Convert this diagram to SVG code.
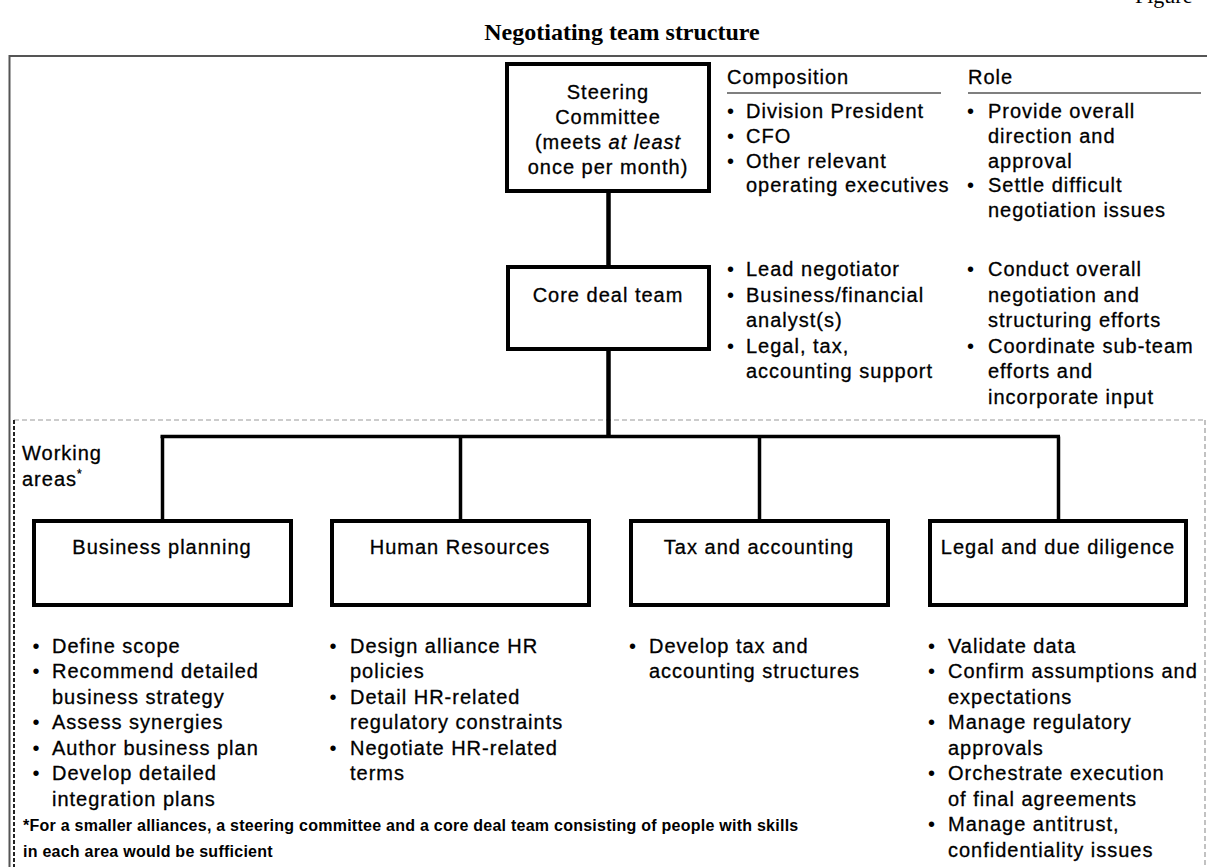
<svg xmlns="http://www.w3.org/2000/svg" width="1207" height="867" viewBox="0 0 1207 867">
<style>
.t{font-family:"Liberation Sans",Arial,sans-serif;font-size:20px;letter-spacing:1px;fill:#000;stroke:#000;stroke-width:0.3}
.m{text-anchor:middle}
.b{font-family:"Liberation Sans",Arial,sans-serif;font-size:20px;fill:#000}
.fn{font-family:"Liberation Sans",Arial,sans-serif;font-size:16px;font-weight:bold;letter-spacing:0.25px;fill:#000}
.ttl{font-family:"Liberation Serif","Times New Roman",serif;font-weight:bold;font-size:24px;fill:#000;text-anchor:middle}
.fig{font-family:"Liberation Serif","Times New Roman",serif;font-size:22px;fill:#000}
.box{fill:#fff;stroke:#000;stroke-width:4}
.con{stroke:#000;fill:none}
.ul{stroke:#555;stroke-width:1.5}
</style>
<rect width="1207" height="867" fill="#fff"/>
<text class="fig" x="1135" y="3">Figure</text>
<text class="ttl" x="622" y="40">Negotiating team structure</text>
<g id="frame">
<line x1="9" y1="56" x2="1207" y2="56" stroke="#555" stroke-width="2"/>
<line x1="9.5" y1="55" x2="9.5" y2="867" stroke="#555" stroke-width="2"/>
<line x1="14" y1="420" x2="1205" y2="420" stroke="#999" stroke-width="1.2" stroke-dasharray="5 3"/>
<line x1="1205" y1="420" x2="1205" y2="867" stroke="#999" stroke-width="1.2" stroke-dasharray="5 3"/>
<line x1="14" y1="420" x2="14" y2="867" stroke="#222" stroke-width="2" stroke-dasharray="4 2"/>
</g>
<g id="connectors">
<line class="con" x1="608.5" y1="191" x2="608.5" y2="267" stroke-width="4.5"/>
<line class="con" x1="608.5" y1="349" x2="608.5" y2="438" stroke-width="4.5"/>
<line class="con" x1="160.5" y1="436.5" x2="1060" y2="436.5" stroke-width="3.5"/>
<line class="con" x1="162.5" y1="436.5" x2="162.5" y2="521" stroke-width="3.5"/>
<line class="con" x1="460.5" y1="436.5" x2="460.5" y2="521" stroke-width="3.5"/>
<line class="con" x1="759.5" y1="436.5" x2="759.5" y2="521" stroke-width="3.5"/>
<line class="con" x1="1058.5" y1="436.5" x2="1058.5" y2="521" stroke-width="3.5"/>
</g>
<g id="steering">
<rect class="box" x="507" y="64" width="202" height="127"/>
<text class="t m" x="608" y="99">Steering</text>
<text class="t m" x="608" y="124">Committee</text>
<text class="t m" x="608" y="149">(meets <tspan font-style="italic">at least</tspan></text>
<text class="t m" x="608" y="174">once per month)</text>
</g>
<g id="core">
<rect class="box" x="508" y="267" width="201" height="82"/>
<text class="t m" x="608" y="302">Core deal team</text>
</g>
<g id="headers">
<text class="t" x="727" y="84">Composition</text>
<line class="ul" x1="727" y1="93" x2="941" y2="93"/>
<text class="t" x="968" y="84">Role</text>
<line class="ul" x1="968" y1="93" x2="1201" y2="93"/>
</g>
<g id="steering-composition">
<text class="b" x="727" y="118">•</text><text class="t" x="746" y="118">Division President</text>
<text class="b" x="727" y="143">•</text><text class="t" x="746" y="143">CFO</text>
<text class="b" x="727" y="168">•</text><text class="t" x="746" y="168">Other relevant</text>
<text class="t" x="746" y="192">operating executives</text>
</g>
<g id="steering-role">
<text class="b" x="967" y="118">•</text><text class="t" x="988" y="118">Provide overall</text>
<text class="t" x="988" y="143">direction and</text>
<text class="t" x="988" y="168">approval</text>
<text class="b" x="967" y="192">•</text><text class="t" x="988" y="192">Settle difficult</text>
<text class="t" x="988" y="217">negotiation issues</text>
</g>
<g id="core-composition">
<text class="b" x="727" y="276">•</text><text class="t" x="746" y="276">Lead negotiator</text>
<text class="b" x="727" y="301.5">•</text><text class="t" x="746" y="301.5">Business/financial</text>
<text class="t" x="746" y="327">analyst(s)</text>
<text class="b" x="727" y="352.5">•</text><text class="t" x="746" y="352.5">Legal, tax,</text>
<text class="t" x="746" y="378">accounting support</text>
</g>
<g id="core-role">
<text class="b" x="967" y="276">•</text><text class="t" x="988" y="276">Conduct overall</text>
<text class="t" x="988" y="301.5">negotiation and</text>
<text class="t" x="988" y="327">structuring efforts</text>
<text class="b" x="967" y="352.5">•</text><text class="t" x="988" y="352.5">Coordinate sub-team</text>
<text class="t" x="988" y="378">efforts and</text>
<text class="t" x="988" y="403.5">incorporate input</text>
</g>
<g id="working-areas">
<text class="t" x="22" y="460">Working</text>
<text class="t" x="22" y="486">areas<tspan font-size="12" dy="-8">*</tspan></text>
</g>
<g id="business-planning">
<rect class="box" x="34" y="521" width="257" height="84"/>
<text class="t m" x="162" y="554">Business planning</text>
<text class="b" x="32.5" y="652.5">•</text><text class="t" x="52" y="652.5">Define scope</text>
<text class="b" x="32.5" y="678">•</text><text class="t" x="52" y="678">Recommend detailed</text>
<text class="t" x="52" y="703.5">business strategy</text>
<text class="b" x="32.5" y="729">•</text><text class="t" x="52" y="729">Assess synergies</text>
<text class="b" x="32.5" y="754.5">•</text><text class="t" x="52" y="754.5">Author business plan</text>
<text class="b" x="32.5" y="780">•</text><text class="t" x="52" y="780">Develop detailed</text>
<text class="t" x="52" y="805.5">integration plans</text>
</g>
<g id="human-resources">
<rect class="box" x="332" y="521" width="257" height="84"/>
<text class="t m" x="460" y="554">Human Resources</text>
<text class="b" x="329.5" y="652.5">•</text><text class="t" x="350" y="652.5">Design alliance HR</text>
<text class="t" x="350" y="678">policies</text>
<text class="b" x="329.5" y="703.5">•</text><text class="t" x="350" y="703.5">Detail HR-related</text>
<text class="t" x="350" y="729">regulatory constraints</text>
<text class="b" x="329.5" y="754.5">•</text><text class="t" x="350" y="754.5">Negotiate HR-related</text>
<text class="t" x="350" y="780">terms</text>
</g>
<g id="tax-accounting">
<rect class="box" x="631" y="521" width="257" height="84"/>
<text class="t m" x="759" y="554">Tax and accounting</text>
<text class="b" x="629" y="652.5">•</text><text class="t" x="649" y="652.5">Develop tax and</text>
<text class="t" x="649" y="678">accounting structures</text>
</g>
<g id="legal-due-diligence">
<rect class="box" x="930" y="521" width="256" height="84"/>
<text class="t m" x="1058" y="554">Legal and due diligence</text>
<text class="b" x="928" y="652.5">•</text><text class="t" x="948" y="652.5">Validate data</text>
<text class="b" x="928" y="678">•</text><text class="t" x="948" y="678">Confirm assumptions and</text>
<text class="t" x="948" y="703.5">expectations</text>
<text class="b" x="928" y="729">•</text><text class="t" x="948" y="729">Manage regulatory</text>
<text class="t" x="948" y="754.5">approvals</text>
<text class="b" x="928" y="780">•</text><text class="t" x="948" y="780">Orchestrate execution</text>
<text class="t" x="948" y="805.5">of final agreements</text>
<text class="b" x="928" y="831">•</text><text class="t" x="948" y="831">Manage antitrust,</text>
<text class="t" x="948" y="856.5">confidentiality issues</text>
</g>
<g id="footnote">
<text class="fn" x="23" y="831">*For a smaller alliances, a steering committee and a core deal team consisting of people with skills</text>
<text class="fn" x="23" y="856.5">in each area would be sufficient</text>
</g>
</svg>
